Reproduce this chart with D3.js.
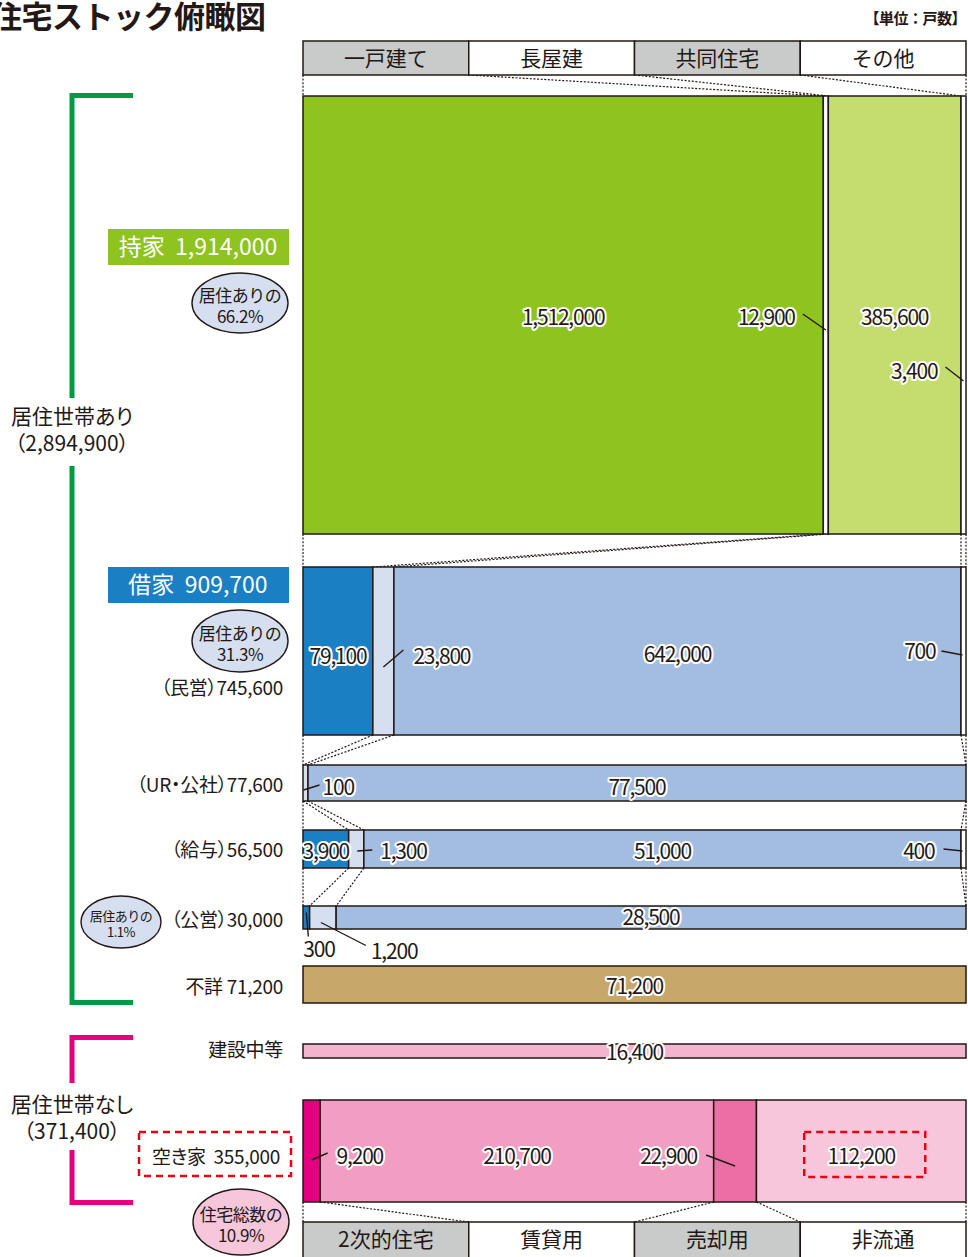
<!DOCTYPE html>
<html lang="ja">
<head>
<meta charset="utf-8">
<title>住宅ストック俯瞰図</title>
<script src="https://cdn.jsdelivr.net/npm/d3@7"></script>
<style>
  body { margin: 0; background: #fff; }
  svg text { font-family: "Noto Sans CJK JP", "Noto Sans", sans-serif; fill: #231815; }
  .halo { paint-order: stroke; stroke: #fff; stroke-width: 4px; stroke-linejoin: round; }
  .palt { font-feature-settings: "palt"; }
</style>
</head>
<body>
<svg id="chart" width="968" height="1257"></svg>
<script>
// ---- data -------------------------------------------------------------
// Building types (mosaic columns) and vacant-home purposes
const buildingTypes = ["一戸建て", "長屋建", "共同住宅", "その他"];
const vacantTypes   = ["2次的住宅", "賃貸用", "売却用", "非流通"];

// Dwellings by building type for each tenure
const ownedValues    = [1512000, 12900, 385600, 3400];
const privateValues  = [79100, 23800, 642000, 700];
const urValues       = [0, 100, 77500, 0];
const employerValues = [3900, 1300, 51000, 400];
const publicValues   = [300, 1200, 28500, 0];
const unknownValues  = [71200];
const constructionValues = [16400];
const vacantValues   = [9200, 210700, 22900, 112200];

// Group totals shown in the labels
const occupiedTotal   = 2894900;
const unoccupiedTotal = 371400;
const ownedTotal      = 1914000;
const rentedTotal     = 909700;
const privateTotal    = 745600;
const urTotal         = 77600;
const employerTotal   = 56500;
const publicTotal     = 30000;
const unknownTotal    = 71200;
const vacantTotal     = 355000;
const shareLabels     = ["66.2%", "31.3%", "1.1%", "10.9%"];

// ---- layout -----------------------------------------------------------
const fmt = d3.format(",");
const X0 = 303, X1 = 966;
const svg = d3.select("#chart");

const ownedFill  = ["#8fc31f", "#ffffff", "#c5dc6f", "#ffffff"];
const rentFill   = ["#1b7fc4", "#d5dff0", "#a3bde1", "#ffffff"];
const vacantFill = ["#e4007f", "#f19ec2", "#eb6ea5", "#f6c7db"];

// Split a row into segments; tiny non-zero parts keep a visible minimum width
function layoutRow(values, minW = 5) {
  const total = d3.sum(values);
  const raw = d3.scaleLinear().domain([0, total]).range([0, X1 - X0]);
  const small = values.map(v => v > 0 && raw(v) < minW);
  const fixed = d3.sum(small, s => s ? minW : 0);
  const rest = d3.sum(values.filter((v, i) => !small[i]));
  const w = d3.scaleLinear().domain([0, rest]).range([0, X1 - X0 - fixed]);
  let cur = X0;
  return values.map((v, i) => {
    const width = v === 0 ? 0 : (small[i] ? minW : w(v));
    const seg = { i, v, x0: cur, x1: cur + width, cx: cur + width / 2 };
    cur += width;
    return seg;
  });
}

// label: mode "c" = centred in segment; otherwise text at (tx,ty) relative to
// segment centre / row centre with a leader line l = [x1,y1,x2,y2]
const rows = [
  { key: "owned", values: ownedValues, y: 96, h: 438, fill: ownedFill,
    labels: [
      { i: 0, mode: "c", dy: 2 },
      { i: 1, tx: -31, ty: 2, anchor: "end", l: [-23, -1, 0, 15] },
      { i: 2, mode: "c", dy: 2 },
      { i: 3, tx: -26, ty: 56, anchor: "end", l: [-18, 52, 0, 66] }
    ] },
  { key: "private", values: privateValues, y: 567, h: 168, fill: rentFill,
    labels: [
      { i: 0, mode: "c", dy: 5 },
      { i: 1, tx: 30, ty: 5, anchor: "start", l: [0, 16, 20, -1] },
      { i: 2, mode: "c", dy: 3 },
      { i: 3, tx: -28, ty: 0, anchor: "end", l: [-22, 0, -1, 4] }
    ] },
  { key: "ur", values: urValues, y: 765, h: 36, fill: rentFill,
    labels: [
      { i: 1, tx: 17, ty: 4, anchor: "start", l: [-2, 7, 14, 2] },
      { i: 2, mode: "c", dy: 4 }
    ] },
  { key: "employer", values: employerValues, y: 830, h: 38, fill: rentFill,
    labels: [
      { i: 0, mode: "c", dy: 2 },
      { i: 1, tx: 24, ty: 2, anchor: "start", l: [1, 2, 16, 1] },
      { i: 2, mode: "c", dy: 2 },
      { i: 3, tx: -29, ty: 2, anchor: "end", l: [-20, 0, -1, 2] }
    ] },
  { key: "public", values: publicValues, y: 906, h: 23, fill: rentFill,
    labels: [
      { i: 0, tx: -3, ty: 32, anchor: "start", l: [0, -5, 2, 19] },
      { i: 1, tx: 48, ty: 34, anchor: "start", l: [-2, 5, 43, 28] },
      { i: 2, mode: "c", dy: 0 }
    ] },
  { key: "unknown", values: unknownValues, y: 966, h: 37, fill: ["#c7a86a"],
    labels: [{ i: 0, mode: "c", dy: 2 }] },
  { key: "construction", values: constructionValues, y: 1044, h: 14, fill: ["#f3b4cd"],
    labels: [{ i: 0, mode: "c", dy: 1 }] },
  { key: "vacant", values: vacantValues, y: 1100, h: 102, fill: vacantFill,
    labels: [
      { i: 0, tx: 25, ty: 5, anchor: "start", l: [0, 9, 16, 2] },
      { i: 1, mode: "c", dy: 5 },
      { i: 2, tx: -38, ty: 5, anchor: "end", l: [-29, 4, 0, 15] },
      { i: 3, mode: "c", dy: 5 }
    ] }
];
rows.forEach(r => { r.segs = layoutRow(r.values, r.key === "public" ? 6 : 5); });
const byKey = Object.fromEntries(rows.map(r => [r.key, r]));

// header / footer category boxes
const topBand = d3.scaleBand().domain(buildingTypes).range([X0, X1]);
const botBand = d3.scaleBand().domain(vacantTypes).range([X0, X1]);
const headerY = 41, headerH = 34, footerY = 1222, footerH = 40;

// ---- dotted connectors (drawn first, under the bars) -------------------
const conn = svg.append("g").attr("fill", "none").attr("stroke", "#231815")
  .attr("stroke-width", 1.2).attr("stroke-dasharray", "2,1.6");

function bounds(segs) { return [segs[0].x0, ...segs.map(s => s.x1)]; }
function connect(xa, ya, xb, yb) {
  xa.forEach((x, k) => conn.append("line")
    .attr("x1", x).attr("y1", ya).attr("x2", xb[k]).attr("y2", yb));
}
const headerBounds = [X0, ...buildingTypes.map(t => topBand(t) + topBand.bandwidth())];
const footerBounds = [X0, ...vacantTypes.map(t => botBand(t) + botBand.bandwidth())];
connect(headerBounds, headerY + headerH, bounds(byKey.owned.segs), byKey.owned.y);
const chain = ["owned", "private", "ur", "employer", "public"];
for (let k = 0; k < chain.length - 1; k++) {
  const a = byKey[chain[k]], b = byKey[chain[k + 1]];
  connect(bounds(a.segs), a.y + a.h, bounds(b.segs), b.y);
}
connect(bounds(byKey.vacant.segs), byKey.vacant.y + byKey.vacant.h, footerBounds, footerY);

// ---- header & footer boxes --------------------------------------------
function bandRow(band, names, y, h, greys) {
  const g = svg.append("g");
  g.selectAll("rect").data(names).join("rect")
    .attr("x", d => band(d)).attr("y", y)
    .attr("width", band.bandwidth()).attr("height", h)
    .attr("fill", (d, i) => greys[i] ? "#c9caca" : "#ffffff")
    .attr("stroke", "#231815").attr("stroke-width", 1.5);
  g.selectAll("text").data(names).join("text")
    .attr("x", d => band(d) + band.bandwidth() / 2)
    .attr("y", y + 17).attr("dy", "0.36em")
    .attr("text-anchor", "middle").attr("font-size", 21)
    .text(d => d);
}
bandRow(topBand, buildingTypes, headerY, headerH, [true, false, true, false]);
bandRow(botBand, vacantTypes, footerY, footerH, [true, false, true, false]);

// ---- bars ---------------------------------------------------------------
const barG = svg.append("g");
rows.forEach(r => {
  barG.append("g").selectAll("rect").data(r.segs.filter(s => s.v > 0)).join("rect")
    .attr("x", s => s.x0).attr("y", r.y)
    .attr("width", s => s.x1 - s.x0).attr("height", r.h)
    .attr("fill", s => r.fill[s.i])
    .attr("stroke", "#231815").attr("stroke-width", 1.5);
});

// ---- value labels ------------------------------------------------------
const lblG = svg.append("g");
rows.forEach(r => {
  const cy = r.y + r.h / 2;
  r.labels.forEach(L => {
    const s = r.segs[L.i];
    const t = lblG.append("text").attr("class", "halo")
      .attr("font-size", 21).attr("letter-spacing", -1.2)
      .attr("dy", "0.36em").text(fmt(s.v));
    if (L.mode === "c") {
      t.attr("x", s.cx).attr("y", cy + L.dy).attr("text-anchor", "middle");
    } else {
      t.attr("x", s.cx + L.tx).attr("y", cy + L.ty).attr("text-anchor", L.anchor);
      lblG.append("line")
        .attr("x1", s.cx + L.l[0]).attr("y1", cy + L.l[1])
        .attr("x2", s.cx + L.l[2]).attr("y2", cy + L.l[3])
        .attr("stroke", "#231815").attr("stroke-width", 1.4);
    }
  });
});
// dashed frame around the non-market vacant count
{
  const s = byKey.vacant.segs[3], cy = byKey.vacant.y + byKey.vacant.h / 2;
  svg.append("rect").attr("x", s.cx - 57).attr("y", cy - 19)
    .attr("width", 121).attr("height", 45)
    .attr("fill", "none").attr("stroke", "#e60012")
    .attr("stroke-width", 2.5).attr("stroke-dasharray", "7,5");
}

// ---- title -------------------------------------------------------------
svg.append("text").attr("x", -9).attr("y", 28)
  .attr("font-size", 31).attr("font-weight", "bold").attr("letter-spacing", -0.5)
  .text("住宅ストック俯瞰図");
svg.append("text").attr("x", 966).attr("y", 24).attr("text-anchor", "end")
  .attr("font-size", 15).attr("font-weight", "bold").attr("letter-spacing", -0.5)
  .text("【単位：戸数】");

// ---- brackets on the left ---------------------------------------------
function bracket(color, top, gapA, gapB, bottom) {
  const g = svg.append("g").attr("stroke", color).attr("stroke-width", 5).attr("fill", "none");
  g.append("path").attr("d", `M133,${top} H72 V${gapA}`);
  g.append("path").attr("d", `M72,${gapB} V${bottom} H133`);
}
bracket("#009944", 95.5, 398, 466, 1002.5);
bracket("#e4007f", 1037.5, 1083, 1150, 1202.5);

function twoLine(x, y, a, b, size) {
  const t = svg.append("text").attr("class", "palt").attr("text-anchor", "middle").attr("font-size", size);
  t.append("tspan").attr("x", x).attr("y", y).text(a);
  t.append("tspan").attr("x", x).attr("y", y + size * 1.3).text(b);
}
twoLine(72, 424, "居住世帯あり", `（${fmt(occupiedTotal)}）`, 21);
twoLine(72, 1112, "居住世帯なし", `（${fmt(unoccupiedTotal)}）`, 21);

// ---- tenure tags ---------------------------------------------------------
function tag(y, fill, text) {
  svg.append("rect").attr("x", 108).attr("y", y).attr("width", 181).attr("height", 36)
    .attr("fill", fill);
  svg.append("text").attr("x", 198).attr("y", y + 18).attr("dy", "0.36em")
    .attr("text-anchor", "middle").attr("font-size", 23)
    .style("fill", "#fff").style("white-space", "pre").text(text);
}
tag(229, "#8fc31f", `持家  ${fmt(ownedTotal)}`);
tag(567, "#1b7fc4", `借家  ${fmt(rentedTotal)}`);

function bubble(cx, cy, rx, ry, fill, a, b, size) {
  svg.append("ellipse").attr("cx", cx).attr("cy", cy).attr("rx", rx).attr("ry", ry)
    .attr("fill", fill).attr("stroke", "#231815").attr("stroke-width", 1.4);
  const t = svg.append("text").attr("text-anchor", "middle").attr("font-size", size)
    .attr("letter-spacing", -0.5);
  t.append("tspan").attr("x", cx).attr("y", cy - 1).text(a);
  t.append("tspan").attr("x", cx).attr("y", cy - 1 + size * 1.25).text(b);
}
bubble(240, 303, 48, 30, "#d5dff0", "居住ありの", shareLabels[0], 17);
bubble(240, 641, 48, 31, "#d5dff0", "居住ありの", shareLabels[1], 17);
bubble(121, 922, 40, 26, "#d5dff0", "居住ありの", shareLabels[2], 13);
bubble(241, 1222, 48, 33, "#f6c7db", "住宅総数の", shareLabels[3], 17);

// ---- row captions --------------------------------------------------------
const captions = [
  { y: 688,  text: `（民営）${fmt(privateTotal)}` },
  { y: 785,  text: `（UR・公社）${fmt(urTotal)}` },
  { y: 850,  text: `（給与）${fmt(employerTotal)}` },
  { y: 920,  text: `（公営）${fmt(publicTotal)}` },
  { y: 987,  text: `不詳 ${fmt(unknownTotal)}` },
  { y: 1050, text: "建設中等" }
];
svg.append("g").selectAll("text").data(captions).join("text")
  .attr("class", "palt")
  .attr("x", 283).attr("y", d => d.y).attr("dy", "0.36em")
  .attr("text-anchor", "end").attr("font-size", 19).attr("letter-spacing", -0.3)
  .text(d => d.text);

// vacant-home caption in a dashed red frame
svg.append("rect").attr("x", 139).attr("y", 1132).attr("width", 152).attr("height", 44)
  .attr("fill", "#fff").attr("stroke", "#e60012").attr("stroke-width", 2.5)
  .attr("stroke-dasharray", "7,5");
svg.append("text").attr("class", "palt").attr("x", 216).attr("y", 1157).attr("dy", "0.36em")
  .attr("text-anchor", "middle").attr("font-size", 19).attr("letter-spacing", -0.3)
  .style("white-space", "pre")
  .text(`空き家  ${fmt(vacantTotal)}`);
</script>
</body>
</html>
